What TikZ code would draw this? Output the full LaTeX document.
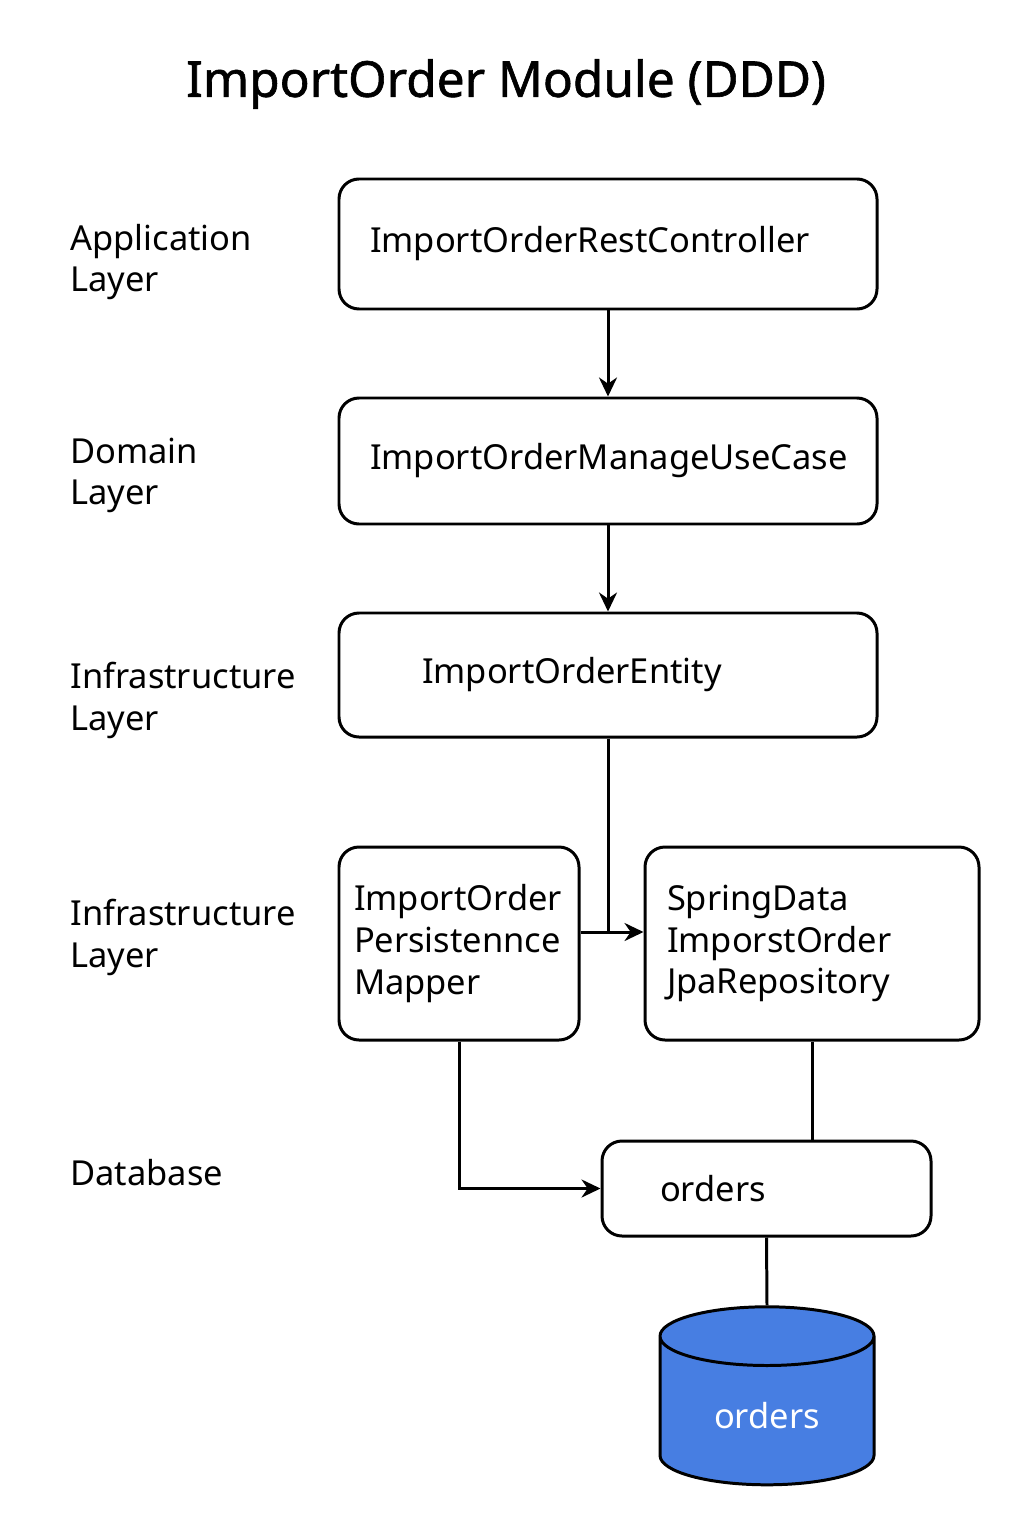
\documentclass[tikz,border=0pt]{standalone}
\usepackage{fontspec}
\setmainfont{Noto Sans}
\newfontfamily\titlefont[FakeBold=1.2]{Noto Sans}
\usepackage{tikz}
\usetikzlibrary{arrows.meta,positioning,shapes.geometric,calc}
\definecolor{dbblue}{HTML}{477EE2}

\begin{document}
\begin{tikzpicture}[
		box/.style = {draw, line width=1.7pt, rounded corners=0.4cm, align=left, font=\fontsize{19.6}{23.8}\selectfont, inner ysep=0pt},
		layer/.style = {anchor=west, align=left, inner sep=0pt, font=\fontsize{19.6}{23.8}\selectfont},
		conn/.style = {line width=1.7pt},
		arr/.style = {line width=1.7pt, -{Stealth[length=3.8mm, width=3.6mm]}}
	]
		\useasboundingbox (0,0) rectangle (20.48,-30.72);
		\node [font=\titlefont\fontsize{28.2}{32}\selectfont](title) at (10.12,-1.68) {ImportOrder Module (DDD)};
		\node [layer](l_app) at (1.4,-5.24) {Application\\Layer};
		\node [layer](l_dom) at (1.4,-9.51) {Domain\\Layer};
		\node [layer](l_inf1) at (1.4,-14.01) {Infrastructure\\Layer};
		\node [layer](l_inf2) at (1.4,-18.75) {Infrastructure\\Layer};
		\node [layer](l_db) at (1.4,-23.46) {Database};
		\node [box, minimum width=10.76cm, minimum height=2.6cm, inner xsep=0.62cm, text width=9.52cm](rest) at (12.16,-4.88) {ImportOrderRestController};
		\node [box, minimum width=10.76cm, minimum height=2.52cm, inner xsep=0.62cm, text width=9.52cm](usecase) at (12.16,-9.22) {ImportOrderManageUseCase};
		\node [box, minimum width=10.76cm, minimum height=2.48cm, inner xsep=1.66cm, text width=7.44cm](entity) at (12.16,-13.5) {ImportOrderEntity};
		\node [box, minimum width=4.8cm, minimum height=3.86cm, inner xsep=0.3cm, text width=4.2cm](mapper) at (9.18,-18.87) {ImportOrder\\Persistennce\\Mapper};
		\node [box, minimum width=6.68cm, minimum height=3.86cm, inner xsep=0.44cm, text width=5.8cm](repo) at (16.24,-18.87) {SpringData\\ImporstOrder\\JpaRepository};
		\node [box, minimum width=6.58cm, minimum height=1.9cm, inner xsep=1.16cm, text width=4.26cm](orders) at (15.33,-23.77) {orders};
		\node [cylinder, shape border rotate=90, aspect=0.5, draw, line width=1.7pt, fill=dbblue, text=white, minimum width=4.28cm, minimum height=3.56cm, font=\fontsize{19.6}{23.8}\selectfont](db) at (15.34,-28.32) {orders};
		\coordinate (junc) at (12.16,-18.64);
		\draw [arr] (rest.south) -- (usecase.north);
		\draw [arr] (usecase.south) -- (entity.north);
		\draw [conn] (entity.south) -- (junc);
		\draw [arr] (mapper.east |- junc) -- (repo.west |- junc);
		\draw [arr] (mapper.south) |- (orders.west);
		\draw [conn] (repo.south) -- (repo.south |- orders.north);
		\draw [conn] (orders.south) -- (db.north);
\end{tikzpicture}
\end{document}
